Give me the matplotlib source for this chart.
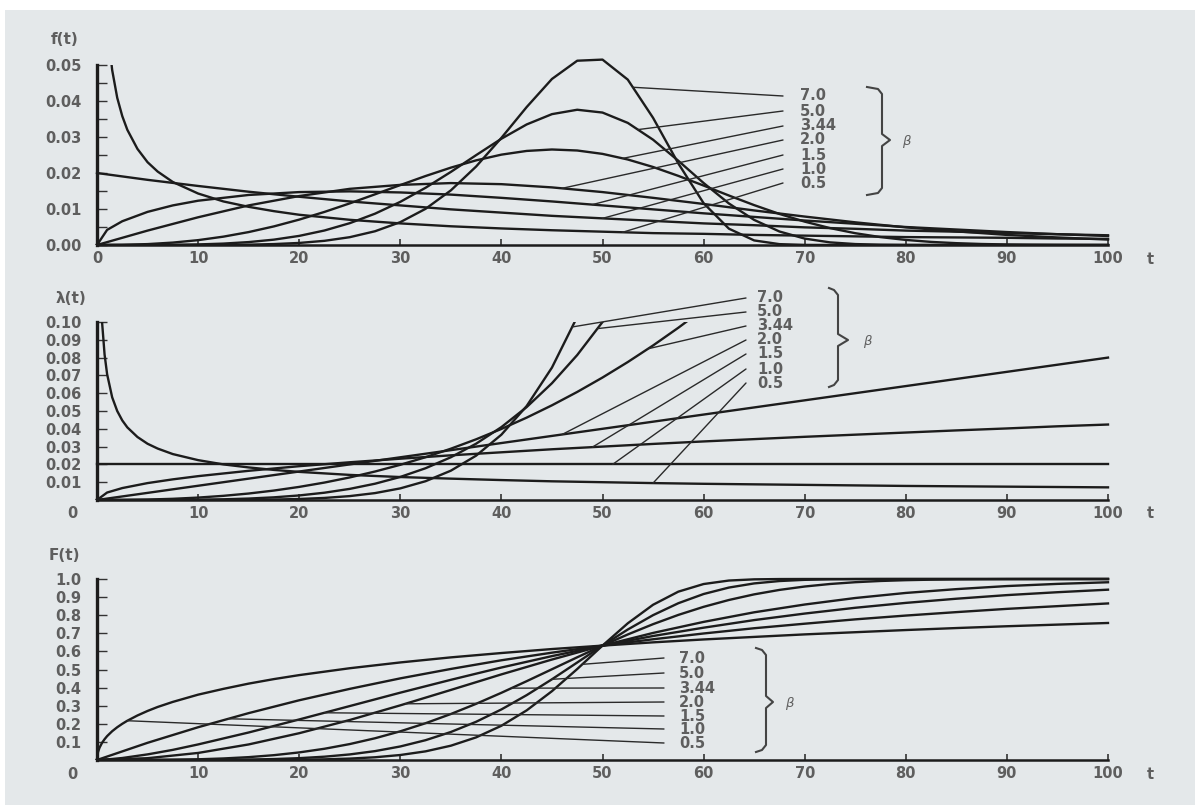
import numpy as np
import matplotlib
matplotlib.use("Agg")
import matplotlib.pyplot as plt
from matplotlib import transforms
from matplotlib.lines import Line2D
from matplotlib.patches import Rectangle

# ── Values (eta = 50) ──
BETA_LABELS = ["0.5", "1.0", "1.5", "2.0", "3.44", "5.0", "7.0"]

T_HALF = [0, 0.1, 0.25, 0.5, 0.75, 1, 1.5, 2, 2.5, 3, 4, 5, 6, 7.5, 10, 12.5, 15, 17.5, 20,
          25, 30, 35, 40, 45, 50, 55, 60, 65, 70, 75, 80, 85, 90, 95, 100]
T_B15 = [0, 1, 2.5, 5, 7.5, 10, 15, 20, 25, 30, 35, 40, 45, 50, 55, 60, 65, 70, 75, 80,
         85, 90, 95, 100]
T_COARSE = list(range(0, 101, 5))
T_FINE = [i * 2.5 for i in range(41)]

# beta = 0.5 (on T_HALF)
pdf_b05 = [np.nan, 0.2137, 0.1318, 0.0905, 0.0722, 0.0614, 0.0486, 0.0409, 0.0358, 0.0320,
           0.0267, 0.0230, 0.0204, 0.0175, 0.0143, 0.0121, 0.0106, 0.0094, 0.0084,
           0.0070, 0.0060, 0.0052, 0.0046, 0.0041, 0.0037, 0.0033, 0.0031, 0.0028, 0.0026,
           0.0024, 0.0022, 0.0021, 0.0020, 0.0018, 0.0017]
haz_b05 = [np.nan, 0.2236, 0.1414, 0.1000, 0.0817, 0.0707, 0.0577, 0.0500, 0.0447, 0.0408,
           0.0354, 0.0316, 0.0289, 0.0258, 0.0224, 0.0200, 0.0183, 0.0169, 0.0158,
           0.0141, 0.0129, 0.0120, 0.0112, 0.0105, 0.0100, 0.0095, 0.0091, 0.0088, 0.0085,
           0.0082, 0.0079, 0.0077, 0.0075, 0.0073, 0.0071]
cdf_b05 = [0, 0.044, 0.068, 0.095, 0.115, 0.132, 0.159, 0.181, 0.200, 0.217,
           0.246, 0.271, 0.293, 0.321, 0.361, 0.393, 0.422, 0.447, 0.469,
           0.507, 0.539, 0.567, 0.591, 0.613, 0.632, 0.650, 0.666, 0.680, 0.694,
           0.706, 0.718, 0.729, 0.739, 0.748, 0.757]

# beta = 1.0, 2.0 (on T_COARSE), beta = 1.5 (on T_B15)
pdf_b10 = [0.0200, 0.0181, 0.0164, 0.0148, 0.0134, 0.0121, 0.0110, 0.0099, 0.0090, 0.0081,
           0.0074, 0.0067, 0.0060, 0.0055, 0.0049, 0.0045, 0.0040, 0.0037, 0.0033, 0.0030, 0.0027]
haz_b10 = [0.02] * 21
cdf_b10 = [0, 0.095, 0.181, 0.259, 0.330, 0.393, 0.451, 0.503, 0.551, 0.593,
           0.632, 0.667, 0.699, 0.728, 0.753, 0.777, 0.798, 0.817, 0.835, 0.850, 0.865]

pdf_b15 = [0, 0.0042, 0.0066, 0.0092, 0.0110, 0.0123, 0.0139, 0.0147, 0.0149, 0.0146,
           0.0140, 0.0131, 0.0121, 0.0110, 0.0099, 0.0088, 0.0078, 0.0068, 0.0059, 0.0050,
           0.0043, 0.0036, 0.0030, 0.0025]
haz_b15 = [0, 0.0042, 0.0067, 0.0095, 0.0116, 0.0134, 0.0164, 0.0190, 0.0212, 0.0232,
           0.0251, 0.0268, 0.0285, 0.0300, 0.0315, 0.0329, 0.0342, 0.0355, 0.0367, 0.0379,
           0.0391, 0.0402, 0.0414, 0.0424]
cdf_b15 = [0, 0.003, 0.011, 0.031, 0.056, 0.086, 0.152, 0.224, 0.298, 0.372,
           0.443, 0.511, 0.574, 0.632, 0.685, 0.731, 0.773, 0.809, 0.841, 0.868,
           0.891, 0.911, 0.927, 0.941]

pdf_b20 = [0, 0.0040, 0.0077, 0.0110, 0.0136, 0.0156, 0.0167, 0.0172, 0.0169, 0.0160,
           0.0147, 0.0131, 0.0114, 0.0096, 0.0079, 0.0063, 0.0049, 0.0038, 0.0028, 0.0021, 0.0015]
haz_b20 = [0, 0.004, 0.008, 0.012, 0.016, 0.020, 0.024, 0.028, 0.032, 0.036,
           0.040, 0.044, 0.048, 0.052, 0.056, 0.060, 0.064, 0.068, 0.072, 0.076, 0.080]
cdf_b20 = [0, 0.010, 0.039, 0.086, 0.148, 0.221, 0.302, 0.387, 0.473, 0.555,
           0.632, 0.702, 0.763, 0.816, 0.859, 0.895, 0.923, 0.944, 0.961, 0.973, 0.982]

# beta = 3.44, 5.0, 7.0 (on T_FINE)
pdf_b344 = [0, 0.00005, 0.00025, 0.00067, 0.00135, 0.00232, 0.00359, 0.00517, 0.00705, 0.00919,
            0.01156, 0.01408, 0.01665, 0.01916, 0.02149, 0.02351, 0.02510, 0.02613, 0.02653, 0.02625,
            0.02531, 0.02375, 0.02167, 0.01920, 0.01651, 0.01375, 0.01108, 0.00863, 0.00649, 0.00470,
            0.00328, 0.00219, 0.00141, 0.00086, 0.00051, 0.00028, 0.00015, 0.00008, 0.00004, 0.00002,
            0.00001]
haz_b344 = [0, 0.00005, 0.00025, 0.00067, 0.00136, 0.00234, 0.00364, 0.00531, 0.00736, 0.00980,
            0.01268, 0.01600, 0.01978, 0.02405, 0.02882, 0.03410, 0.03992, 0.04628, 0.05320, 0.06071,
            0.06880, 0.07750, 0.08681, 0.09677, 0.10734, 0.11857, 0.13052, 0.14309, 0.15638, 0.17037,
            0.18506, 0.20049, 0.21659, 0.2335, 0.2511, 0.2695, 0.2887, 0.3087, 0.3294, 0.3509, 0.3733]
cdf_b344 = [0, 0.0000, 0.0004, 0.0015, 0.0039, 0.0085, 0.0158, 0.0267, 0.0419, 0.0621,
            0.0880, 0.1201, 0.1585, 0.2032, 0.2541, 0.3104, 0.3713, 0.4355, 0.5014, 0.5675,
            0.6321, 0.6936, 0.7504, 0.8016, 0.8462, 0.8840, 0.9151, 0.9397, 0.9585, 0.9724,
            0.9823, 0.9891, 0.9935, 0.9963, 0.9980, 0.9989, 0.9995, 0.9998, 0.9999, 1.0, 1.0]

pdf_b50 = [0, 0, 0.00001, 0.00005, 0.00016, 0.00039, 0.00081, 0.00149, 0.00253, 0.00403,
           0.00606, 0.00870, 0.01199, 0.01590, 0.02030, 0.02496, 0.02952, 0.03349, 0.03635, 0.03757,
           0.03679, 0.03392, 0.02925, 0.02340, 0.01722, 0.01154, 0.00697, 0.00375, 0.00178, 0.00073,
           0.00026, 0.00008, 0.00002, 0, 0, 0, 0, 0, 0, 0, 0]
haz_b50 = [0, 0, 0.00001, 0.00005, 0.00016, 0.00039, 0.00081, 0.00150, 0.00256, 0.00410,
           0.00625, 0.00915, 0.01296, 0.01785, 0.02401, 0.03164, 0.04096, 0.05220, 0.06561, 0.08145,
           0.1000, 0.1216, 0.1464, 0.1749, 0.2074, 0.2441, 0.2856, 0.3322, 0.3842, 0.4421,
           0.5063, 0.5772, 0.6554, 0.7412, 0.8352, 0.9379, 1.0498, 1.1714, 1.3032, 1.4460, 1.6000]
cdf_b50 = [0, 0, 0, 0.0001, 0.0003, 0.0010, 0.0024, 0.0052, 0.0102, 0.0183,
           0.0308, 0.0491, 0.0748, 0.1095, 0.1547, 0.2112, 0.2794, 0.3584, 0.4459, 0.5387,
           0.6321, 0.7209, 0.8002, 0.8662, 0.9170, 0.9527, 0.9756, 0.9887, 0.9954, 0.9984,
           0.9995, 0.9999, 1.0, 1.0, 1.0, 1.0, 1.0, 1.0, 1.0, 1.0, 1.0]

pdf_b70 = [0, 0, 0, 0, 0.00001, 0.00003, 0.00010, 0.00026, 0.00057, 0.00116,
           0.00217, 0.00382, 0.00635, 0.01005, 0.01517, 0.02180, 0.02976, 0.03832, 0.04612, 0.05119,
           0.05150, 0.04594, 0.03533, 0.02265, 0.01162, 0.00454, 0.00127, 0.00024, 0.00003, 0,
           0, 0, 0, 0, 0, 0, 0, 0, 0, 0, 0]
haz_b70 = [0, 0, 0, 0, 0.00001, 0.00003, 0.00010, 0.00026, 0.00057, 0.00116,
           0.00219, 0.00388, 0.00653, 0.01056, 0.01647, 0.02492, 0.03670, 0.05280, 0.07440, 0.10291,
           0.14, 0.1876, 0.2480, 0.3238, 0.4180, 0.5341, 0.6758, 0.8475, 1.0541, 1.301,
           1.595, 1.942, 2.349, 2.825, 3.380, 4.022, 4.762, 5.61, 6.587, 7.70, 8.96]
cdf_b70 = [0, 0, 0, 0, 0, 0.0001, 0.0002, 0.0006, 0.0016, 0.0037,
           0.0078, 0.0151, 0.0276, 0.0478, 0.0790, 0.1250, 0.1892, 0.2742, 0.3802, 0.5026,
           0.6321, 0.7552, 0.8576, 0.9301, 0.9722, 0.9915, 0.9981, 0.9997, 1.0, 1.0,
           1.0, 1.0, 1.0, 1.0, 1.0, 1.0, 1.0, 1.0, 1.0, 1.0, 1.0]

CURVES = [
    (T_HALF, pdf_b05, haz_b05, cdf_b05),
    (T_COARSE, pdf_b10, haz_b10, cdf_b10),
    (T_B15, pdf_b15, haz_b15, cdf_b15),
    (T_COARSE, pdf_b20, haz_b20, cdf_b20),
    (T_FINE, pdf_b344, haz_b344, cdf_b344),
    (T_FINE, pdf_b50, haz_b50, cdf_b50),
    (T_FINE, pdf_b70, haz_b70, cdf_b70),
]

# ── Layout (pixels of the 1203x805 scan) ──
W, H = 1203, 805
BG = "#e4e8ea"
INK = "#1c1c1c"
TXT = "#5e5e5e"
FS = 10.5
plt.rcParams["font.family"] = ["DejaVu Sans"]

fig = plt.figure(figsize=(W / 100, H / 100), dpi=100)
fig.patch.set_facecolor("white")
fig.add_artist(Rectangle((5 / W, 0), 1190 / W, 795 / H, transform=fig.transFigure,
                         facecolor=BG, edgecolor="none", zorder=-10))


def px_axes(x0, y_top, x1, y_bot):
    return fig.add_axes([x0 / W, 1 - y_bot / H, (x1 - x0) / W, (y_bot - y_top) / H])


def setup(ax, ylim, ytop, yticks, ylabels, minor=None, zero_left=False):
    ax.set_facecolor("none")
    ax.set_xlim(0, 100)
    ax.set_ylim(0, ylim)
    for s in ("top", "right"):
        ax.spines[s].set_visible(False)
    ax.spines["left"].set_bounds(0, ytop)
    ax.spines["left"].set_linewidth(2.4)
    ax.spines["bottom"].set_linewidth(1.8)
    ax.spines["left"].set_color(INK)
    ax.spines["bottom"].set_color(INK)
    ax.set_xticks(range(0, 101, 10))
    xl = [str(v) for v in range(0, 101, 10)]
    if zero_left:
        xl[0] = ""
    ax.set_xticklabels(xl)
    ax.set_yticks(yticks)
    ax.set_yticklabels(ylabels)
    if minor is not None:
        ax.set_yticks(minor, minor=True)
    ax.tick_params(axis="y", which="both", direction="in", length=7, width=1.0,
                   color="#333", pad=11)
    ax.tick_params(axis="x", direction="in", length=4, width=1.2, color="#333", pad=4)
    for lab in ax.get_xticklabels() + ax.get_yticklabels():
        lab.set_fontsize(FS)
        lab.set_fontweight("bold")
        lab.set_color(TXT)
    ax.annotate("t", xy=(1, 0), xycoords="axes fraction", xytext=(42, -14),
                textcoords="offset pixels", ha="center", va="center",
                fontsize=FS, fontweight="bold", color=TXT)
    if zero_left:
        ax.annotate("0", xy=(0, 0), xycoords="axes fraction", xytext=(-25, -14),
                    textcoords="offset pixels", ha="center", va="center",
                    fontsize=FS, fontweight="bold", color=TXT)


def leaders(ax, series_idx, anchors, lab_y_px, y_bot_px, y_h_px, x_end, x_txt):
    blend = transforms.blended_transform_factory(ax.transData, ax.transAxes)
    for i, (lab, ta) in enumerate(zip(BETA_LABELS, anchors)):
        t, vals = CURVES[i][0], CURVES[i][series_idx]
        ya = np.interp(ta, t, np.nan_to_num(vals, nan=1.0))
        yl = (y_bot_px - lab_y_px[i]) / y_h_px
        ax.annotate("", xy=(ta, ya), xycoords="data", xytext=(x_end, yl), textcoords=blend,
                    arrowprops=dict(arrowstyle="-", lw=1.0, color="#2a2a2a",
                                    shrinkA=0, shrinkB=0), annotation_clip=False)
        ax.text(x_txt, yl, lab, transform=blend, ha="left", va="center",
                fontsize=FS, fontweight="bold", color=TXT, clip_on=False)


def brace(x0, xv, yt, ym, yb, xp, bx, by):
    pts = [(x0, yt), (xv - 4, yt + 2), (xv, yt + 7), (xv, ym - 6), (xp, ym),
           (xv, ym + 6), (xv, yb - 7), (xv - 4, yb - 2), (x0, yb)]
    fig.add_artist(Line2D([p[0] / W for p in pts], [1 - p[1] / H for p in pts],
                          transform=fig.transFigure, color="#444", lw=1.5))
    fig.text(bx / W, 1 - by / H, "β", fontsize=9.5, fontstyle="italic",
             color=TXT, ha="center", va="center")


def draw_curves(ax, idx, top_half, top_rest):
    for c in CURVES:
        line, = ax.plot(c[0], c[idx], color=INK, lw=1.7, solid_joinstyle="round",
                        clip_on=True)
        top = top_half if c[0] is T_HALF else top_rest
        line.set_clip_path(Rectangle((-1, 0), 102, top, transform=ax.transData,
                                     facecolor="none"))


X0, X1 = 97, 1108
PX_PER_T = (X1 - X0) / 100.0

# ── Panel 1: density f(t) (peak of beta=7 rises just above 0.05) ──
ax1 = px_axes(X0, 47, X1, 245)
setup(ax1, 0.055, 0.05, [0, 0.01, 0.02, 0.03, 0.04, 0.05],
      ["0.00", "0.01", "0.02", "0.03", "0.04", "0.05"],
      minor=[0.005, 0.015, 0.025, 0.035, 0.045])
draw_curves(ax1, 1, 0.05, 0.055)
leaders(ax1, 1, [52, 50, 49, 46, 52, 53.5, 53],
        [183, 169, 155, 140, 126, 111, 96], 245, 198,
        (783 - X0) / PX_PER_T, (800 - X0) / PX_PER_T)
brace(867, 882, 87, 140, 195, 890, 906, 141)
fig.text(65 / W, 1 - 39 / H, "f(t)", fontsize=11, fontweight="bold", color=TXT,
         ha="center", va="center")

# ── Panel 2: hazard rate λ(t) ──
ax2 = px_axes(X0, 322, X1, 500)
setup(ax2, 0.10, 0.10, [0.01 * k for k in range(1, 11)],
      ["0.01", "0.02", "0.03", "0.04", "0.05", "0.06", "0.07", "0.08", "0.09", "0.10"],
      zero_left=True)
draw_curves(ax2, 2, 0.10, 0.10)
leaders(ax2, 2, [55, 51, 49, 46, 54.5, 49.5, 47],
        [383, 369, 354, 340, 326, 312, 298], 500, 178,
        (746 - X0) / PX_PER_T, (757 - X0) / PX_PER_T)
brace(829, 838, 288, 340, 387, 848, 867, 342)
fig.text(71 / W, 1 - 298 / H, "λ(t)", fontsize=11, fontweight="bold", color=TXT,
         ha="center", va="center")

# ── Panel 3: distribution F(t) ──
ax3 = px_axes(X0, 579, X1, 760)
setup(ax3, 1.0, 1.0, [0.1 * k for k in range(1, 11)],
      ["0.1", "0.2", "0.3", "0.4", "0.5", "0.6", "0.7", "0.8", "0.9", "1.0"],
      zero_left=True)
draw_curves(ax3, 3, 1.01, 1.01)
leaders(ax3, 3, [3, 13, 22.5, 30.5, 41, 45, 48],
        [743, 729, 716, 702, 688, 673, 658], 760, 181,
        (664 - X0) / PX_PER_T, (679 - X0) / PX_PER_T)
brace(756, 766, 648, 702, 752, 773, 789, 703)
fig.text(64 / W, 1 - 555 / H, "F(t)", fontsize=11, fontweight="bold", color=TXT,
         ha="center", va="center")

fig.savefig("out.png", dpi=100)
